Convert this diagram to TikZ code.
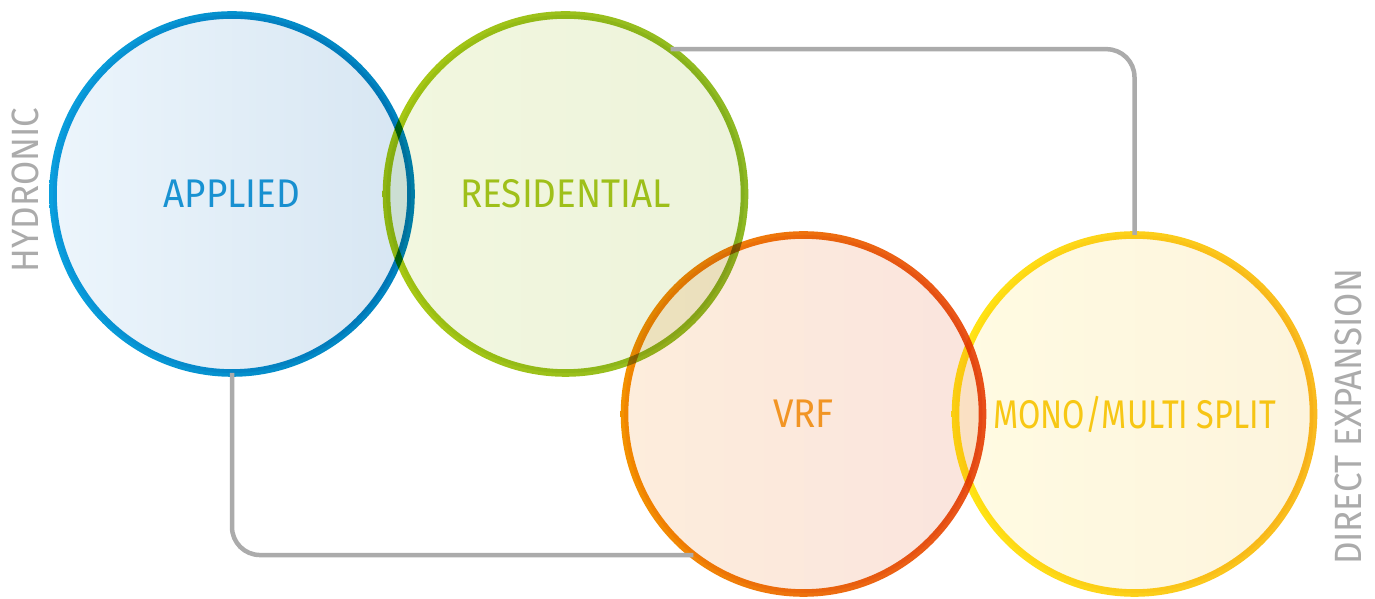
\documentclass[tikz,border=0pt]{standalone}
\usepackage{fontspec}
\setmainfont{Fira Sans}[FakeStretch=0.92]
\usepackage{tikz}
\usetikzlibrary{positioning}

\definecolor{linegray}{HTML}{ABABAB}
\definecolor{aplL}{HTML}{0A9FDD}  \definecolor{aplR}{HTML}{0081BD}
\definecolor{aplFL}{HTML}{ECF5FC} \definecolor{aplFR}{HTML}{D7E6F2}
\definecolor{aplT}{HTML}{1C9CD8}
\definecolor{resL}{HTML}{A8C813}  \definecolor{resR}{HTML}{8DB823}
\definecolor{resFL}{HTML}{F2F7DF} \definecolor{resFR}{HTML}{EDF3DB}
\definecolor{resT}{HTML}{A9C81E}
\definecolor{vrfL}{HTML}{F39200}  \definecolor{vrfR}{HTML}{E8501B}
\definecolor{vrfFL}{HTML}{FDEDDC} \definecolor{vrfFR}{HTML}{FAE4DD}
\definecolor{vrfT}{HTML}{F5A42A}
\definecolor{monoL}{HTML}{FFE614} \definecolor{monoR}{HTML}{F9BA1F}
\definecolor{monoFL}{HTML}{FFFBE2} \definecolor{monoFR}{HTML}{FDF4DD}
\definecolor{monoT}{HTML}{F8CD17}

\tikzset{
  zone/.style={circle, minimum size=358pt, inner sep=0pt, outer sep=0pt,
    font=\fontsize{40}{48}\selectfont},
  link/.style={draw=linegray, line width=4.5pt, rounded corners=28pt},
  side/.style={text=linegray, rotate=90, font=\fontsize{38}{44}\selectfont}
}

\begin{document}
\begin{tikzpicture}[x=1pt, y=1pt]
    \useasboundingbox (0,0) rectangle (1375,599);

    \begin{scope}[blend mode=multiply]
      % Draw the four zones
      \node[zone, left color=aplFL, right color=aplFR, text=aplT] (apl) at (232,405) {APPLIED};
      \node[zone, left color=resFL, right color=resFR, text=resT] (res) at (565.5,405) {RESIDENTIAL};
      \node[zone, left color=vrfFL, right color=vrfFR, text=vrfT] (vrf) at (803.5,185) {VRF};
      \node[zone, left color=monoFL, right color=monoFR, text=monoT] (mono) at (1134.5,185)
        {\scalebox{0.88}[1]{MONO/MULTI SPLIT}};

      % Draw the shaded rims
      \foreach \zn/\cl/\cr in {apl/aplL/aplR, res/resL/resR, vrf/vrfL/vrfR, mono/monoL/monoR} {
        \shade[left color=\cl, right color=\cr, even odd rule]
          (\zn.center) circle (182.8) (\zn.center) circle (175.2);
      }
    \end{scope}

    % Group links
    \draw[link] (apl.south) -- (apl.south |- vrf.232.5) -- (vrf.232.5);
    \draw[link] (res.54.6) -- (res.54.6 -| mono.north) -- (mono.north);

    % Side labels
    \node[side] (hydro) at (25,409) {HYDRONIC};
    \node[side] (dx) at (1348,182) {DIRECT EXPANSION};
\end{tikzpicture}
\end{document}
